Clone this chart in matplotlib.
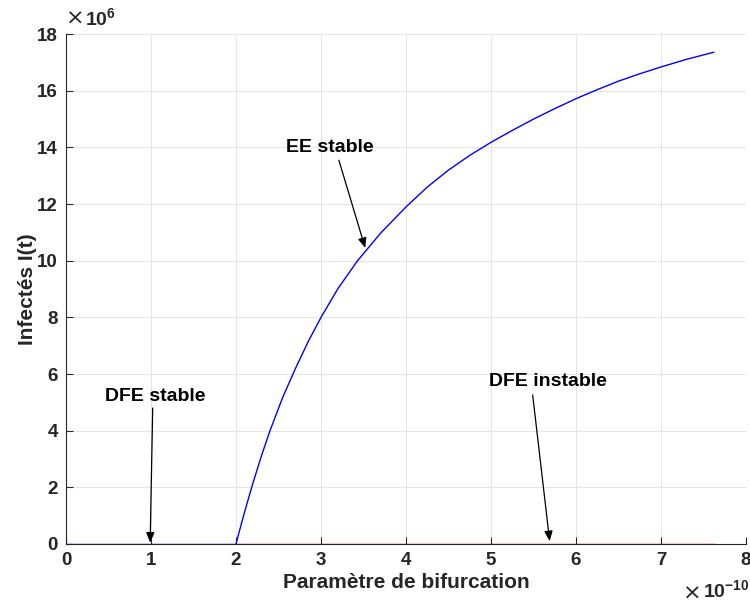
"""Diagramme de bifurcation : DFE / EE en fonction du parametre."""

import matplotlib
matplotlib.use("Agg")
import matplotlib.pyplot as plt

plt.rcParams['font.family'] = ['Liberation Sans', 'DejaVu Sans']
plt.rcParams['mathtext.fontset'] = 'custom'
plt.rcParams['mathtext.rm'] = 'Liberation Sans:bold'
plt.rcParams['mathtext.bf'] = 'Liberation Sans:bold'

# parametre de bifurcation (x 1e-10) et infectes I(t) (x 1e6)
dfe_stable_x = [0.0, 2.0]
dfe_stable_y = [0.0, 0.0]

dfe_instable_x = [2.0, 7.62]
dfe_instable_y = [0.0, 0.0]

ee_x = [2.0, 2.05, 2.1, 2.2, 2.3, 2.4, 2.55, 2.7, 2.85, 3.0, 3.2, 3.43,
        3.7, 4.0, 4.25, 4.5, 4.75, 5.0, 5.25, 5.5, 5.75, 6.0, 6.25, 6.5,
        6.75, 7.0, 7.3, 7.62]
ee_y = [0.0, 0.57, 1.12, 2.16, 3.12, 4.0, 5.18, 6.2, 7.15, 8.0, 9.02, 10.0,
        10.97, 11.9, 12.6, 13.2, 13.72, 14.18, 14.6, 15.0, 15.37, 15.72,
        16.04, 16.34, 16.6, 16.84, 17.11, 17.36]

x_ticks = [0, 1, 2, 3, 4, 5, 6, 7, 8]
y_ticks = [0, 2, 4, 6, 8, 10, 12, 14, 16, 18]

# (texte, position du texte, pointe de la fleche, depart de la fleche)
annotations = [
    ("DFE stable", (1.047, 5.22), (0.99, 0.05), (1.02, 4.8)),
    ("DFE instable", (5.67, 5.72), (5.69, 0.1), (5.49, 5.26)),
    ("EE stable", (3.10, 13.98), (3.52, 10.45), (3.21, 13.55)),
]

tick_col = '#262626'

fig = plt.figure(figsize=(7.5, 6.07), dpi=100)
ax = fig.add_axes([0.088, 0.1038, 0.9067, 0.840])

ax.plot(dfe_stable_x, dfe_stable_y, color='blue', lw=1.0)
ax.plot(ee_x, ee_y, color='blue', lw=1.0)
ax.plot(dfe_instable_x, dfe_instable_y, color='red', lw=1.0)

ax.set_xlim(0, 8)
ax.set_ylim(0, 18)
ax.set_xticks(x_ticks)
ax.set_yticks(y_ticks)
ax.set_xticklabels([str(t) for t in x_ticks])
ax.set_yticklabels([str(t) for t in y_ticks])

ax.grid(True, color='#e0e0e0', lw=0.6)
ax.set_axisbelow(True)
for side in ['top', 'right']:
    ax.spines[side].set_visible(False)
for side in ['left', 'bottom']:
    ax.spines[side].set_color(tick_col)
    ax.spines[side].set_linewidth(0.8)
ax.tick_params(direction='in', length=5, width=0.8, colors=tick_col,
               labelsize=13.5, pad=6)
for lab in ax.get_xticklabels() + ax.get_yticklabels():
    lab.set_fontweight('bold')

ax.set_xlabel('Paramètre de bifurcation', fontsize=15, fontweight='bold',
              color=tick_col, labelpad=3)
ax.set_ylabel('Infectés I(t)', fontsize=15, fontweight='bold',
              color=tick_col, labelpad=0)

# facteurs d'echelle facon MATLAB
ax.text(0.0, 1.010, '×', transform=ax.transAxes, fontsize=16,
        color=tick_col, ha='left', va='bottom', family='DejaVu Sans')
ax.text(0.028, 1.008, r'$\mathbf{10}^{\mathbf{6}}$', transform=ax.transAxes,
        fontsize=14, color=tick_col, ha='left', va='bottom')
fig.text(0.936, 0.006, '×', fontsize=16, color=tick_col, ha='right',
         va='bottom', family='DejaVu Sans')
fig.text(0.999, 0.008, r'$\mathbf{10}^{\mathbf{-10}}$',
         fontsize=14, color=tick_col, ha='right', va='bottom')

for txt, pos, head, tail in annotations:
    ax.text(pos[0], pos[1], txt, fontsize=14, fontweight='bold', color='black',
            ha='center', va='center')
    ax.annotate('', xy=head, xytext=tail,
                arrowprops=dict(arrowstyle='-|>,head_length=0.6,head_width=0.25',
                                color='black', lw=0.9, shrinkA=0, shrinkB=0))

fig.savefig('out.png', dpi=100)
